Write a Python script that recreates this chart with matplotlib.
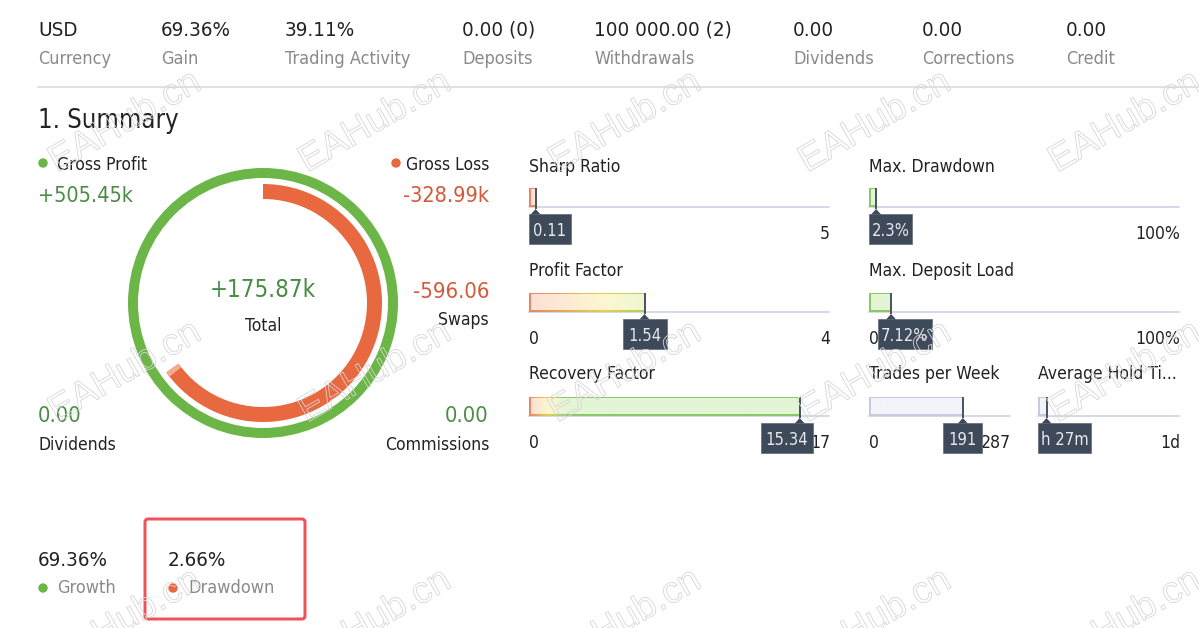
import numpy as np
import matplotlib
matplotlib.use("Agg")
import matplotlib.pyplot as plt
from matplotlib.patches import Wedge, Rectangle, FancyBboxPatch, Circle, Polygon
import matplotlib.patheffects as pe
from matplotlib.colors import to_rgb

# ---------------- data ----------------
header_values = ["USD", "69.36%", "39.11%", "0.00 (0)", "100 000.00 (2)", "0.00", "0.00", "0.00"]
header_labels = ["Currency", "Gain", "Trading Activity", "Deposits", "Withdrawals",
                 "Dividends", "Corrections", "Credit"]
gross_profit_k = 505.45
gross_loss_k = 328.99
total_k = 175.87
swaps = -596.06
dividends = 0.00
commissions = 0.00

gauge_titles = ["Sharp Ratio", "Profit Factor", "Recovery Factor", "Max. Drawdown",
                "Max. Deposit Load", "Trades per Week", "Average Hold Ti..."]
gauge_values = [0.11, 1.54, 15.34, 2.3, 7.12, 191, 87]      # hold time in minutes
gauge_max = [5, 4, 17, 100, 100, 287, 1440]
gauge_min_labels = ["0", "0", "0", "0", "0", "0", "0"]
gauge_max_labels = ["5", "4", "17", "100%", "100%", "287", "1d"]
gauge_tip_labels = ["0.11", "1.54", "15.34", "2.3%", "7.12%", "191", "h 27m"]

growth_label = "69.36%"
drawdown_label = "2.66%"

# ---------------- style ----------------
plt.rcParams["font.family"] = ["DejaVu Sans"]
plt.rcParams["font.stretch"] = "condensed"
DARK = "#222222"
GRAY = "#8a8a8a"
GREEN_T = "#4a8c46"
ORANGE_T = "#d5583a"
RING_G = "#6cb547"
RING_O = "#e8683f"
PT = 0.72

fig = plt.figure(figsize=(11.99, 6.28), dpi=100)
ax = fig.add_axes([0, 0, 1, 1])
W, H = 1199, 628


def T(x, y, s, px, color=DARK, ha="left", va="baseline", **kw):
    ax.text(x, y, s, fontsize=px * PT, color=color, ha=ha, va=va, **kw)


# ---------------- header ----------------
header_x = [38, 161, 285, 462, 594, 793, 922, 1066]
for x, v, l in zip(header_x, header_values, header_labels):
    T(x, 36, v, 20.5)
    T(x, 64, l, 18, color=GRAY)
ax.plot([38, W], [87, 87], color="#d6d6de", lw=1.5 * PT)
T(38, 128, "1. Summary", 25.5)

# ---------------- ring ----------------
cx, cy = 263, 303
ax.add_patch(Wedge((cx, cy), 135, 0, 360, width=10, color=RING_G, lw=0))
frac = gross_loss_k / gross_profit_k
end = -90 + frac * 360
ax.add_patch(Wedge((cx, cy), 119, -90, end, width=15, color=RING_O, lw=0))
ax.add_patch(Wedge((cx, cy), 119, end - 2.5, end, width=15, color="#f3ab92", lw=0))

ax.add_patch(Circle((43, 163), 4, color=RING_G))
T(57, 170, "Gross Profit", 17.5)
T(38, 202, f"+{gross_profit_k:.2f}k", 21.5, color=GREEN_T)
ax.add_patch(Circle((396, 163), 4, color=RING_O))
T(489, 170, "Gross Loss", 17.5, ha="right")
T(489, 202, f"-{gross_loss_k:.2f}k", 21.5, color=ORANGE_T, ha="right")
T(cx, 297, f"+{total_k:.2f}k", 24, color=GREEN_T, ha="center")
T(cx, 331, "Total", 17.5, ha="center")
T(489, 298, f"{swaps:.2f}", 22, color=ORANGE_T, ha="right")
T(489, 325, "Swaps", 17.5, ha="right")
T(38, 422, f"{dividends:.2f}", 22, color=GREEN_T)
T(38, 450, "Dividends", 17.5)
T(489, 422, f"{commissions:.2f}", 22, color=GREEN_T, ha="right")
T(489, 450, "Commissions", 17.5, ha="right")

# ---------------- gauges ----------------
row_line = [207, 312, 416]
row_title = [172, 276, 379]
# x0, width, row, scheme, tooltip width, tooltip left pad, tooltip right pad
layout = [(529, 300, 0, "up", 42, 0, 0),
          (529, 300, 1, "up", 44, 0, 0),
          (529, 300, 2, "up", 52, 0, 16),
          (869, 310, 0, "down", 43, 0, 0),
          (869, 310, 1, "down", 54, 9, 0),
          (869, 141, 2, "neutral", 39, 0, 0),
          (1038, 141, 2, "neutral", 53, 0, 0)]

B_RED, B_YEL, B_GRN = to_rgb("#ea8662"), to_rgb("#e2d24c"), to_rgb("#8cc864")
F_RED, F_YEL, F_GRN = to_rgb("#fde0d6"), to_rgb("#fdf7d0"), to_rgb("#e4f5d6")


def grad_colors(vals, c0, c1, c2):
    out = []
    for v in vals:
        if v <= 1:
            t = max(v, 0)
            out.append([c0[i] * (1 - t) + c1[i] * t for i in range(3)])
        else:
            t = min(v - 1, 1)
            out.append([c1[i] * (1 - t) + c2[i] * t for i in range(3)])
    return np.array(out)[None, :, :]


for i, (x0, w, row, scheme, tw, lp, rp) in enumerate(layout):
    yl = row_line[row]
    T(x0, row_title[row], gauge_titles[i], 17.5)
    ax.plot([x0, x0 + w], [yl, yl], color="#c9cde0", lw=1.5 * PT, zorder=2)
    val = gauge_values[i]
    xe = x0 + w * val / gauge_max[i]
    ytop = yl - 19
    n = 200
    if scheme == "up":
        vs = np.linspace(0, val, n)
        bimg = grad_colors(vs, B_RED, B_YEL, B_GRN)
        fimg = grad_colors(vs, F_RED, F_YEL, F_GRN)
    elif scheme == "down":
        bimg = np.tile(np.array(B_GRN), (1, n, 1))
        fimg = np.tile(np.array(F_GRN), (1, n, 1))
    else:
        bimg = np.tile(np.array(to_rgb("#c6cadc")), (1, n, 1))
        fimg = np.tile(np.array(to_rgb("#f2f4fa")), (1, n, 1))
    ax.imshow(bimg, extent=(x0, xe, yl, ytop), aspect="auto", interpolation="bilinear", zorder=3)
    ax.imshow(fimg, extent=(x0 + 1.6, xe - 1.6, yl - 1.6, ytop + 1.6), aspect="auto",
              interpolation="bilinear", zorder=4)
    # marker line
    ax.plot([xe, xe], [ytop, yl + 2], color="#4a5666", lw=2 * PT, zorder=5, solid_capstyle="butt")
    # min / max labels
    T(x0, yl + 32, gauge_min_labels[i], 17.5)
    T(x0 + w + 1, yl + 32, gauge_max_labels[i], 17.5, ha="right")
    # tooltip
    left = xe - tw / 2
    left = max(left, x0 + lp)
    left = min(left, x0 + w - rp - tw)
    ttop = yl + 7
    ax.add_patch(Rectangle((left, ttop), tw, 30, facecolor="#3e4a59", edgecolor="#6a7482",
                           lw=0.6, zorder=6))
    ax.add_patch(Polygon([[xe - 5, ttop + 0.5], [xe + 5, ttop + 0.5], [xe, ttop - 5]],
                         closed=True, facecolor="#3e4a59", edgecolor="none", zorder=6))
    T(left + tw / 2, yl + 29, gauge_tip_labels[i], 16.5, color="#e6e9ee", ha="center", zorder=7)

# ---------------- bottom ----------------
T(38, 566, growth_label, 20.5)
ax.add_patch(Circle((43, 588), 4, color=RING_G))
T(57, 593, "Growth", 18, color=GRAY)
T(168, 566, drawdown_label, 20.5)
ax.add_patch(Circle((173, 588), 4, color=RING_O))
T(188, 593, "Drawdown", 18, color=GRAY)
ax.add_patch(FancyBboxPatch((145, 519), 160, 100, boxstyle="round,pad=0,rounding_size=3",
                            facecolor="none", edgecolor="#f0525a", lw=3 * PT, zorder=8))

# ---------------- watermarks ----------------
for wy in [122, 372, 620]:
    for wx in [125, 375, 625, 875, 1125]:
        ax.text(wx, wy, "EAHub.cn", fontsize=27, rotation=30, ha="center", va="center",
                family="Liberation Sans", fontstretch="normal", color="none", zorder=9,
                path_effects=[pe.Stroke(linewidth=0.6, foreground="#d6d6d6")])

ax.set_xlim(0, W)
ax.set_ylim(H, 0)
ax.axis("off")
fig.savefig("out.png", dpi=100, facecolor="white")
